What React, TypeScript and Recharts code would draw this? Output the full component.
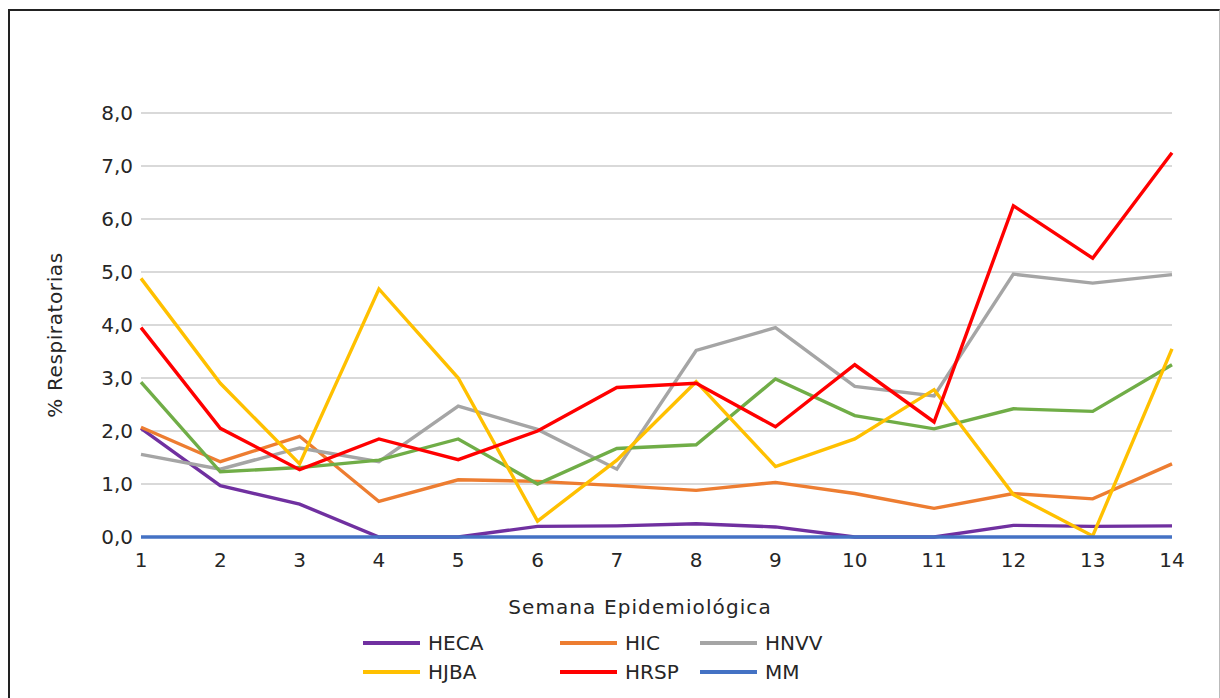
import React from 'react';
import { LineChart, Line, XAxis, YAxis, CartesianGrid, Customized } from 'recharts';

const weeks = [1, 2, 3, 4, 5, 6, 7, 8, 9, 10, 11, 12, 13, 14];
const heca = [2.05, 0.97, 0.62, 0, 0, 0.2, 0.21, 0.25, 0.19, 0, 0, 0.22, 0.2, 0.21];
const hic = [2.07, 1.42, 1.9, 0.67, 1.08, 1.05, 0.97, 0.88, 1.03, 0.82, 0.54, 0.82, 0.72, 1.38];
const hnvv = [1.56, 1.28, 1.68, 1.42, 2.47, 2.03, 1.28, 3.52, 3.95, 2.84, 2.66, 4.96, 4.79, 4.95];
const otro = [2.92, 1.23, 1.31, 1.45, 1.85, 1.0, 1.67, 1.74, 2.98, 2.29, 2.04, 2.42, 2.37, 3.25];
const hjba = [4.88, 2.9, 1.38, 4.68, 3.0, 0.3, 1.45, 2.93, 1.33, 1.85, 2.78, 0.8, 0.02, 3.55];
const hrsp = [3.95, 2.05, 1.27, 1.85, 1.46, 2.0, 2.82, 2.9, 2.08, 3.25, 2.17, 6.25, 5.26, 7.25];
const mm = [0, 0, 0, 0, 0, 0, 0, 0, 0, 0, 0, 0, 0, 0];
const yTicks = [0, 1, 2, 3, 4, 5, 6, 7, 8];

const series = [
  { key: 'HECA', values: heca, color: '#7030A0', legend: true },
  { key: 'HIC', values: hic, color: '#ED7D31', legend: true },
  { key: 'HNVV', values: hnvv, color: '#A5A5A5', legend: true },
  { key: 'Otro', values: otro, color: '#70AD47', legend: false },
  { key: 'HJBA', values: hjba, color: '#FFC000', legend: true },
  { key: 'HRSP', values: hrsp, color: '#FF0000', legend: true },
  { key: 'MM', values: mm, color: '#4472C4', legend: true },
];
const legendOrder = ['HECA', 'HIC', 'HNVV', 'HJBA', 'HRSP', 'MM'];

const data = weeks.map((w, i) => {
  const row: Record<string, number> = { week: w };
  series.forEach((s) => { row[s.key] = s.values[i]; });
  return row;
});

const FONT = '"DejaVu Sans", Verdana, sans-serif';
const TEXT = '#262626';

const colLine = [0, 197, 337];

const LegendBox = () => {
  const items = legendOrder.map((k) => series.find((s) => s.key === k)!);
  return (
    <div style={{ position: 'absolute', left: 353, top: 620, width: 460, height: 60, fontFamily: FONT, fontSize: 20, color: TEXT }}>
      {items.map((s, i) => {
        const col = i % 3;
        const row = Math.floor(i / 3);
        return (
          <div key={s.key} style={{ position: 'absolute', left: colLine[col], top: row * 29, height: 24, display: 'flex', alignItems: 'center' }}>
            <div style={{ width: 57, height: 4, background: s.color, marginRight: 8 }} />
            <span style={{ lineHeight: '24px', whiteSpace: 'nowrap' }}>{s.key}</span>
          </div>
        );
      })}
    </div>
  );
};

const Titles = () => (
  <g>
    <text x={630} y={603} textAnchor="middle" fontFamily={FONT} fontSize={20} fill={TEXT} letterSpacing={1.1}>
      Semana Epidemiológica
    </text>
    <text x={0} y={0} transform="translate(52,324) rotate(-90)" textAnchor="middle" fontFamily={FONT} fontSize={20} fill={TEXT} letterSpacing={0.6}>
      % Respiratorias
    </text>
  </g>
);

export default function App() {
  return (
    <div>
      <style>{'body{margin:0;overflow:hidden;background:#fff}'}</style>
      <div
        style={{
          position: 'absolute',
          left: 8,
          top: 9,
          width: 1212,
          height: 700,
          boxSizing: 'border-box',
          borderLeft: '2px solid #222',
          borderTop: '2px solid #222',
          borderRight: '1px solid #bbb',
          background: '#fff',
        }}
      >
        <LineChart width={1209} height={689} data={data} margin={{ top: 102, right: 47, bottom: 133, left: 0 }}>
          <CartesianGrid vertical={false} stroke="#d9d9d9" strokeWidth={2} />
          <XAxis
            dataKey="week"
            type="category"
            height={30}
            tickLine={false}
            axisLine={false}
            tick={{ fontFamily: FONT, fontSize: 20, fill: TEXT }}
            tickMargin={10}
            interval={0}
            padding={{ left: 0, right: 0 }}
          />
          <YAxis
            width={131}
            domain={[0, 8]}
            ticks={yTicks}
            tickFormatter={(v: number) => v.toFixed(1).replace('.', ',')}
            tickLine={false}
            axisLine={false}
            tickSize={0}
            tickMargin={8}
            tick={{ fontFamily: FONT, fontSize: 20, fill: TEXT }}
            interval={0}
          />
          {series.map((s) => (
            <Line
              key={s.key}
              dataKey={s.key}
              name={s.key}
              type="linear"
              stroke={s.color}
              strokeWidth={3.4}
              dot={false}
              activeDot={false}
              legendType={s.legend ? 'line' : 'none'}
              isAnimationActive={false}
            />
          ))}
          <Customized component={Titles} />
        </LineChart>
        <LegendBox />
      </div>
    </div>
  );
}
